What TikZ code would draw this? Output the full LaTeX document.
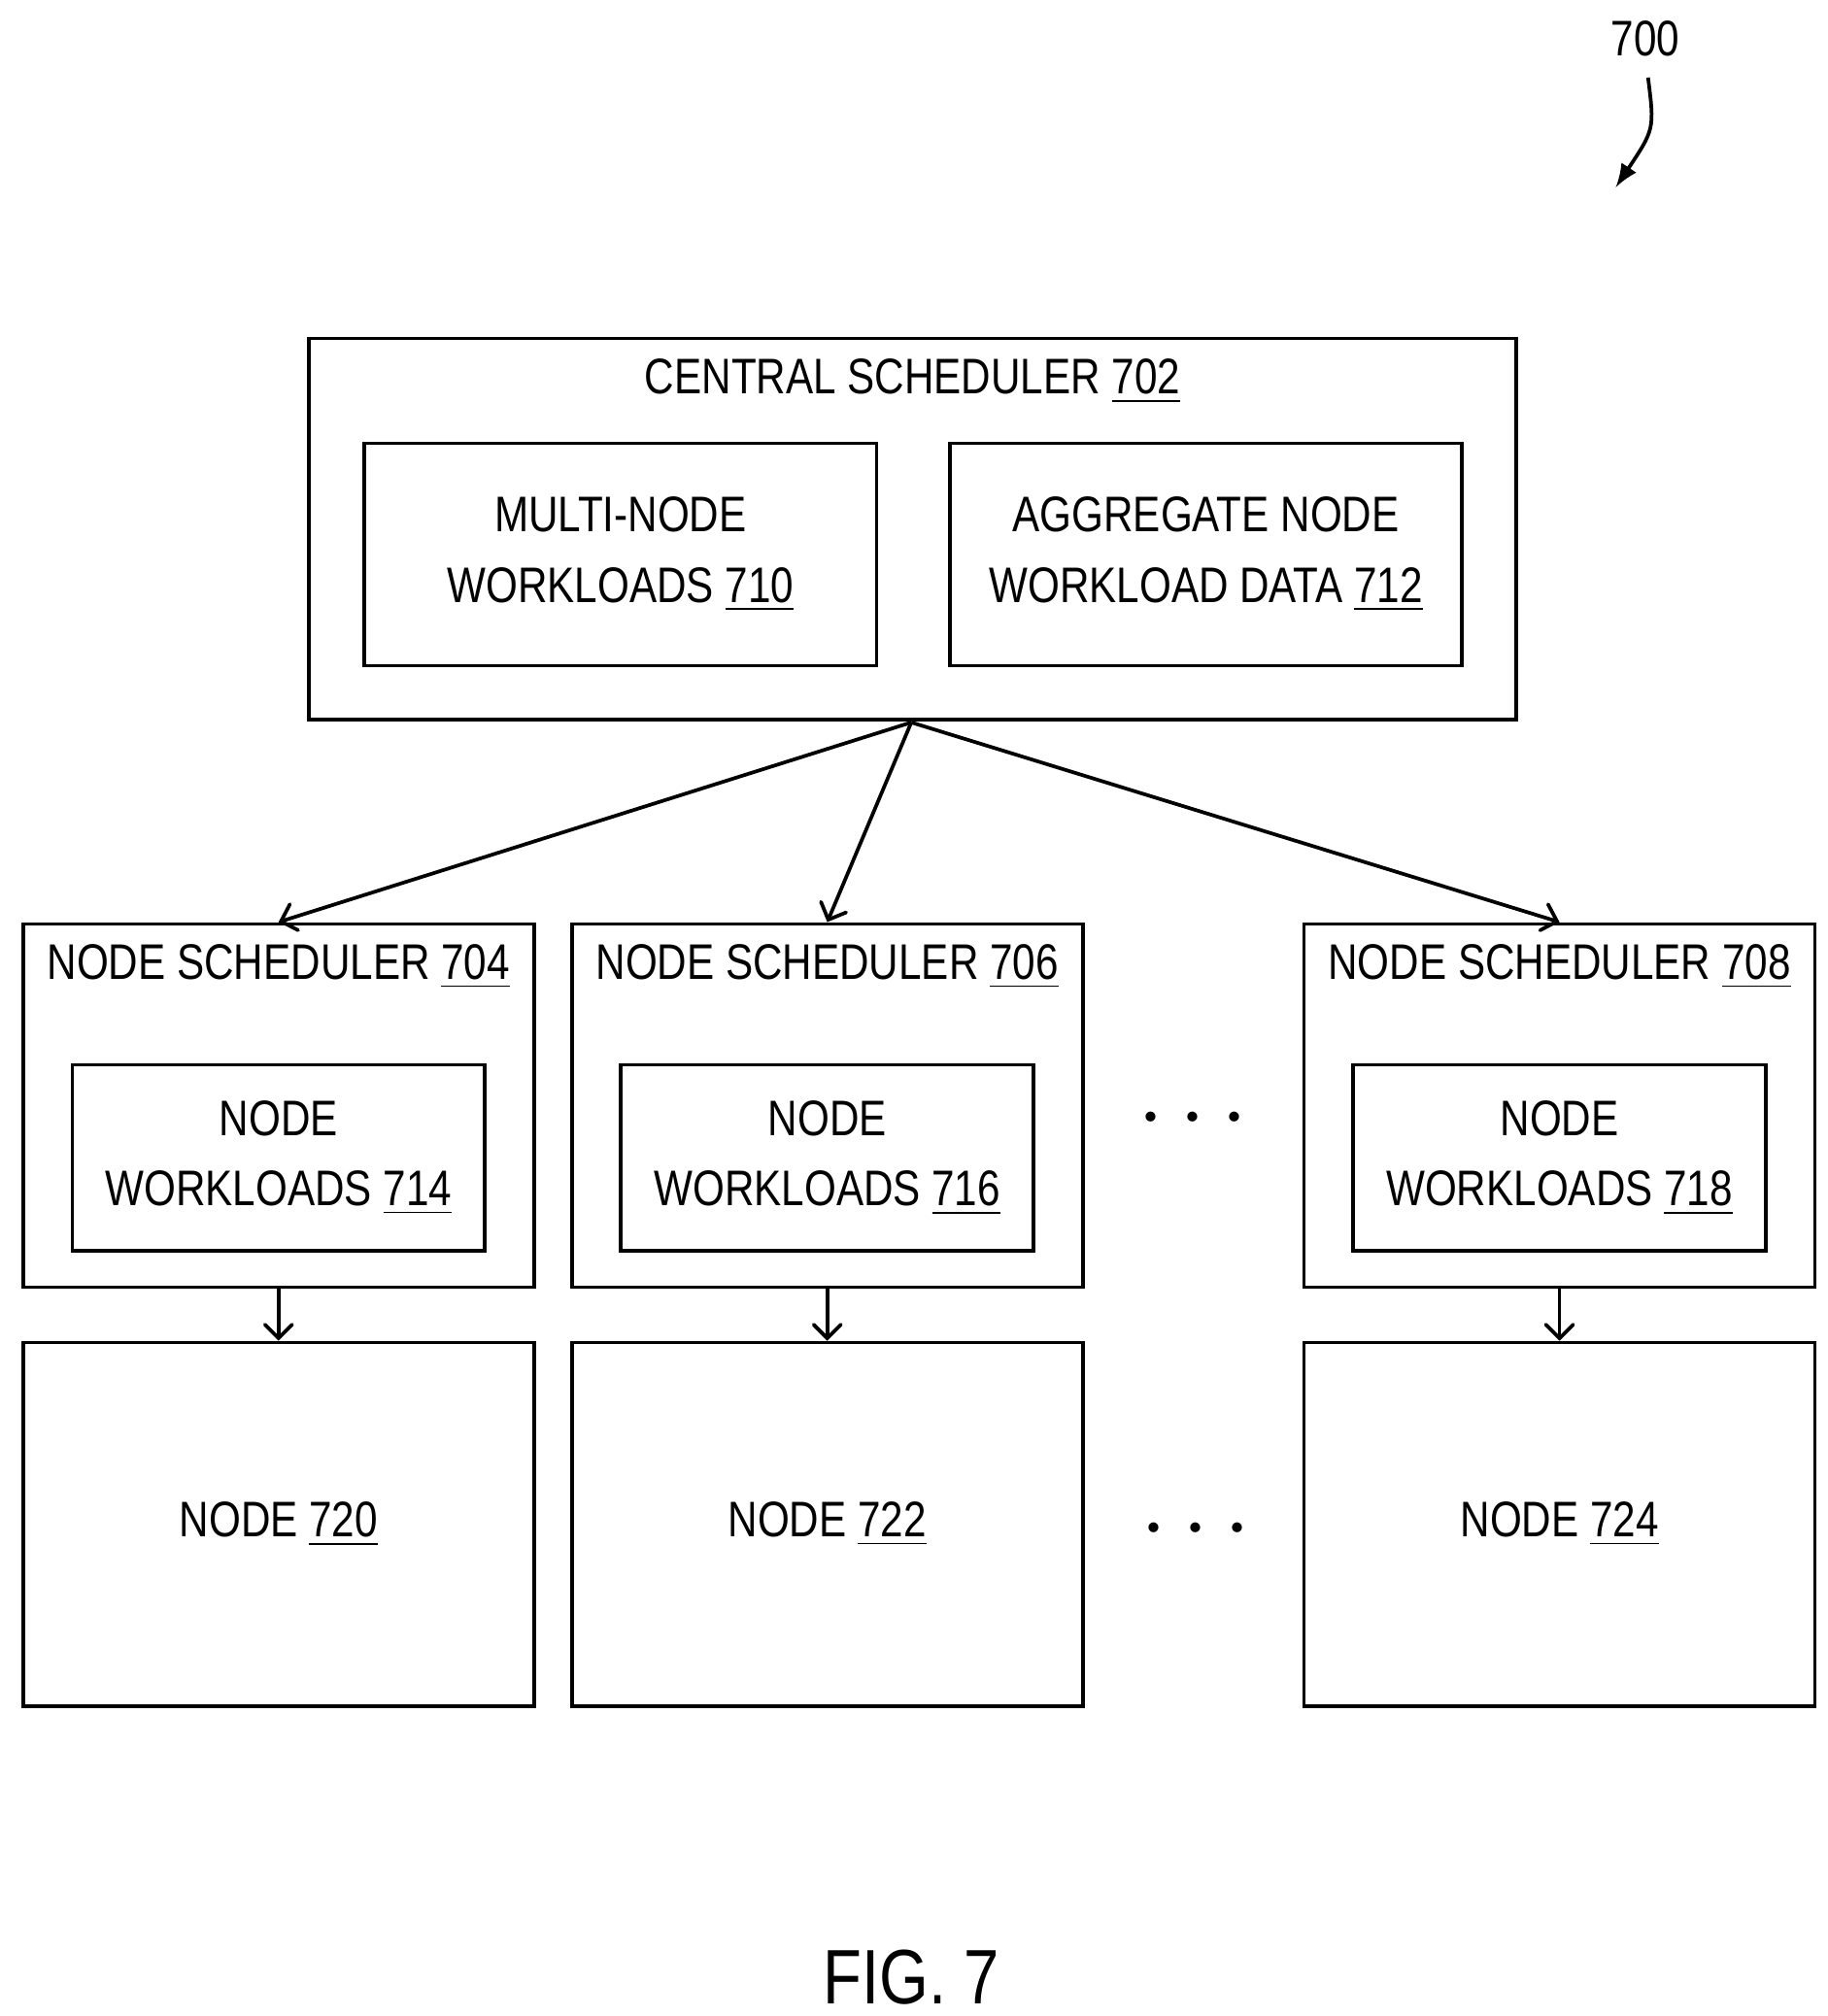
\documentclass[tikz,border=0pt]{standalone}
\usepackage{fontspec}
\setmainfont[FakeStretch=0.82]{Liberation Sans}
\usetikzlibrary{arrows,positioning}
\tikzset{
  box/.style={draw,thick,rectangle,inner sep=0pt},
  lbl/.style={font=\fontsize{11}{15.5}\selectfont,align=center,inner sep=0pt},
  conn/.style={thick,->,>=angle 90}
}
\begin{document}
\begin{tikzpicture}[x=0.01cm,y=-0.01cm]
\useasboundingbox (0,0) rectangle (1414,1560);
%central scheduler
\node[box,minimum width=9.34cm,minimum height=2.95cm] (cs) at (706,409.5) {};
\node[lbl] (cst) at (706,295) {CENTRAL SCHEDULER \underline{702}};
\node[box,minimum width=3.96cm,minimum height=1.72cm] (mw) at (480,429) {};
\node[lbl] (mwt) at (mw) {MULTI-NODE\\WORKLOADS \underline{710}};
\node[box,minimum width=3.96cm,minimum height=1.72cm] (ag) at (933,429) {};
\node[lbl] (agt) at (ag) {AGGREGATE NODE\\WORKLOAD DATA \underline{712}};
%node schedulers, workloads and nodes
\foreach \x/\s/\w/\n in {215.5/704/714/720, 640/706/716/722, 1206.5/708/718/724}{
  \node[box,minimum width=3.95cm,minimum height=2.81cm] (ns\s) at (\x,855.5) {};
  \node[lbl] (nst\s) at (\x,748) {NODE SCHEDULER \underline{\s}};
  \node[box,minimum width=3.19cm,minimum height=1.44cm] (nw\w) at (\x,896) {};
  \node[lbl] (nwt\w) at (nw\w) {NODE\\WORKLOADS \underline{\w}};
  \node[box,minimum width=3.95cm,minimum height=2.81cm] (nd\n) at (\x,1179.5) {};
  \node[lbl] (ndt\n) at (nd\n) {NODE \underline{\n}};
  \draw[conn] (ns\s.south) -- (nd\n.north);
}
\coordinate (csb) at (705,559);
\draw[conn] (csb) -- (ns704.north);
\draw[conn] (csb) -- (ns706.north);
\draw[conn] (csb) -- (ns708.north);
%dots
\node[font=\fontsize{20}{20}\selectfont] (d1) at (923,866) {$\cdots$};
\node[font=\fontsize{20}{20}\selectfont] (d2) at (925,1184) {$\cdots$};
%figure label
\node[lbl] (ref) at (1273,30) {700};
\coordinate (refa) at (1250,145);
\draw[thick,->,>=latex] (1275,60) .. controls (1280,100) .. (refa);
\node[font=\fontsize{17}{20}\selectfont] (fig) at (705,1530) {FIG. 7};
\end{tikzpicture}
\end{document}
